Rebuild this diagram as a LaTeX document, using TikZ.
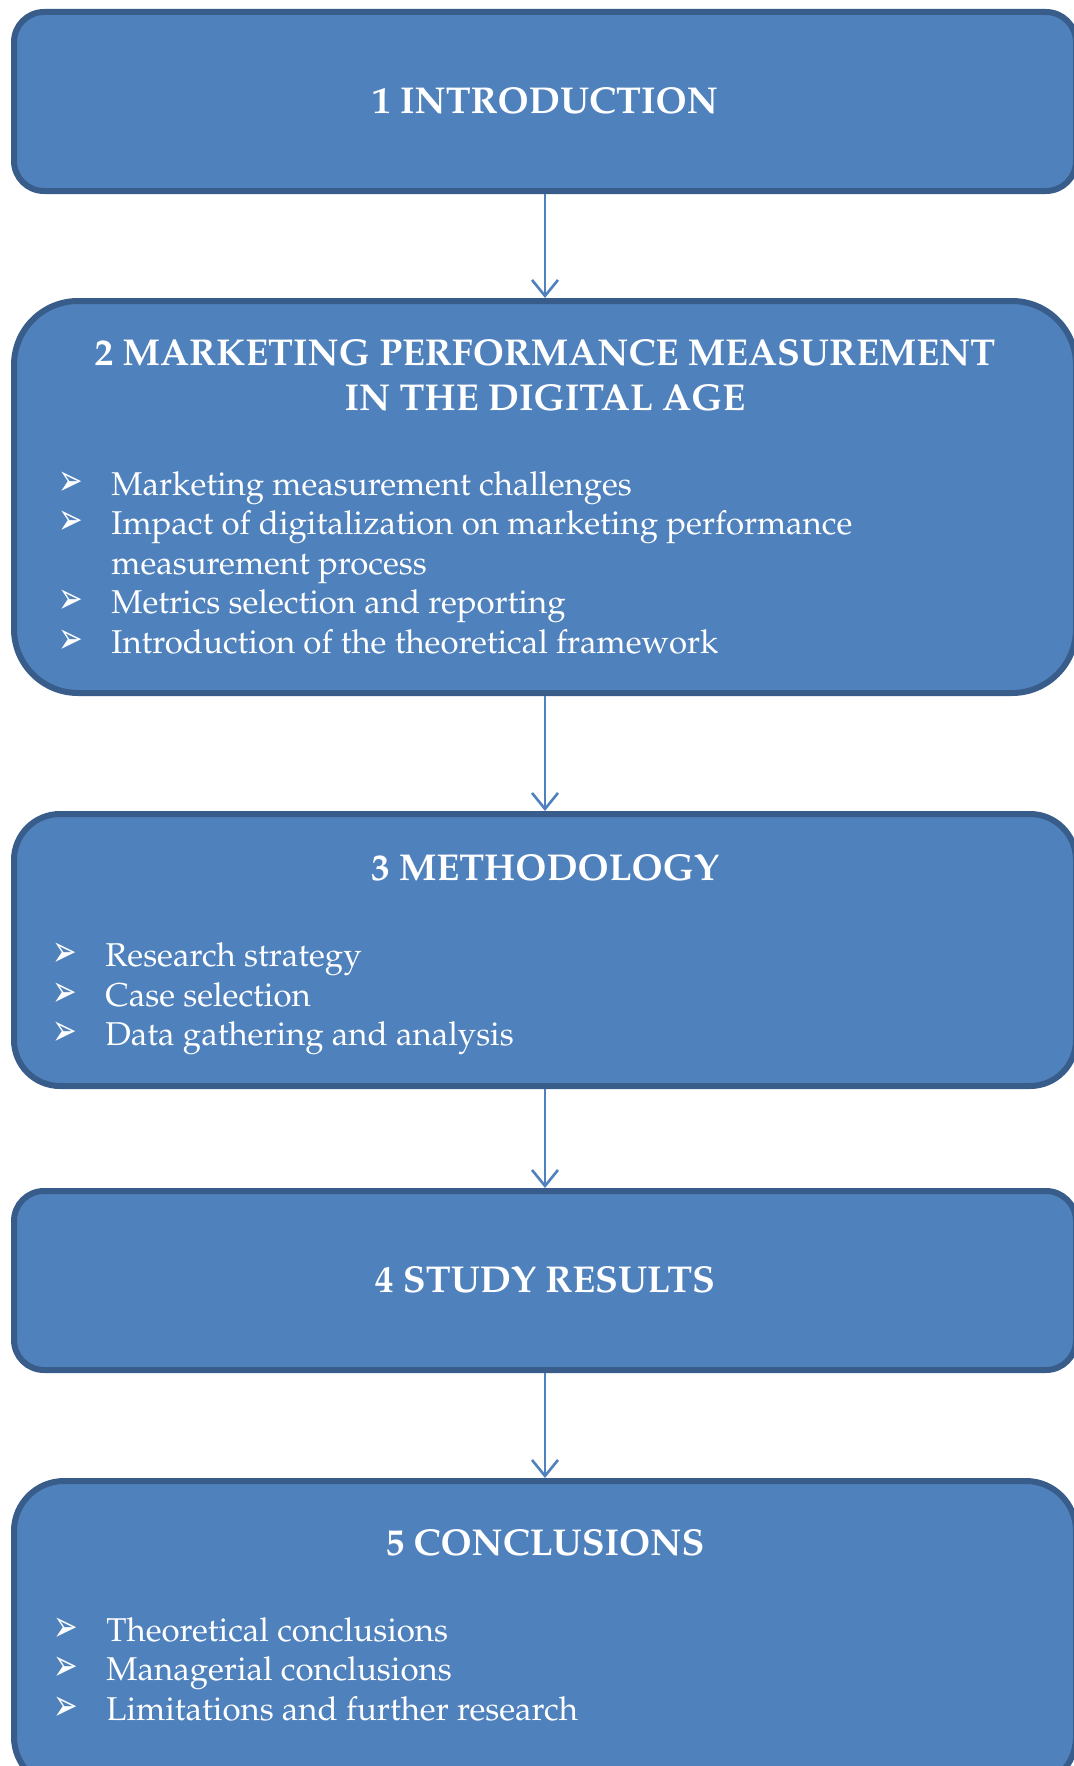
\documentclass[tikz,border=0pt]{standalone}
\usepackage[T1]{fontenc}
\usepackage{fontspec}
\usepackage{graphicx}
\newfontfamily\symfont{DejaVu Sans}
\newcommand\palfont{\fontencoding{T1}\fontfamily{ppl}\selectfont}
\newcommand\bul{\makebox[26.5pt][l]{\scalebox{0.7}[1.05]{\symfont\fontsize{21}{21}\selectfont ➢}}}
\usetikzlibrary{arrows.meta}
\definecolor{boxfill}{HTML}{4F81BD}
\definecolor{boxline}{HTML}{385D8A}

\begin{document}
\begin{tikzpicture}[x=0.5pt,y=-0.5pt,
  box/.style={draw=boxline,fill=boxfill,line width=3pt,inner sep=0pt,minimum width=531pt},
  title/.style={text=white,font=\palfont\bfseries\fontsize{18.7}{22.5}\selectfont,align=center,anchor=base,inner sep=0pt},
  list/.style={text=white,font=\palfont\fontsize{16.5}{19.7}\selectfont,align=left,anchor=base west,inner sep=0pt},
  link/.style={draw=boxfill,line width=1.3pt,-{Straight Barb[length=8pt,width=13pt]}}]

\useasboundingbox (0,0) rectangle (1074,1766);
\clip (0,0) rectangle (1074,1766);

\node[box,minimum height=89.5pt,rounded corners=15pt] (intro) at (545,101.5) {};
\node[box,minimum height=196pt,rounded corners=32pt] (mpm) at (545,497) {};
\node[box,minimum height=136pt,rounded corners=23pt] (method) at (545,950) {};
\node[box,minimum height=89.5pt,rounded corners=15pt] (results) at (545,1280.5) {};
\node[box,minimum height=153pt,rounded corners=25pt] (concl) at (545,1634) {};

% titles (base = last line)
\node[title] (intro-t) at (545,113) {1 INTRODUCTION};
\node[title] (mpm-t) at (545,410) {2 MARKETING PERFORMANCE MEASUREMENT\\IN THE DIGITAL AGE};
\node[title] (method-t) at (545,880) {3 METHODOLOGY};
\node[title] (results-t) at (545,1292) {4 STUDY RESULTS};
\node[title] (concl-t) at (545,1555.5) {5 CONCLUSIONS};

% bullet lists (base = last line)
\node[list] (mpm-l) at (58,653) {\bul Marketing measurement challenges\\
  \bul Impact of digitalization on marketing performance\\
  \hspace*{26.5pt}measurement process\\
  \bul Metrics selection and reporting\\
  \bul Introduction of the theoretical framework};
\node[list] (method-l) at (52,1045.5) {\bul Research strategy\\
  \bul Case selection\\
  \bul Data gathering and analysis};
\node[list] (concl-l) at (53,1720) {\bul Theoretical conclusions\\
  \bul Managerial conclusions\\
  \bul Limitations and further research};

\draw[link] (intro) -- (mpm);
\draw[link] (mpm) -- (method);
\draw[link] (method) -- (results);
\draw[link] (results) -- (concl);
\end{tikzpicture}
\end{document}
